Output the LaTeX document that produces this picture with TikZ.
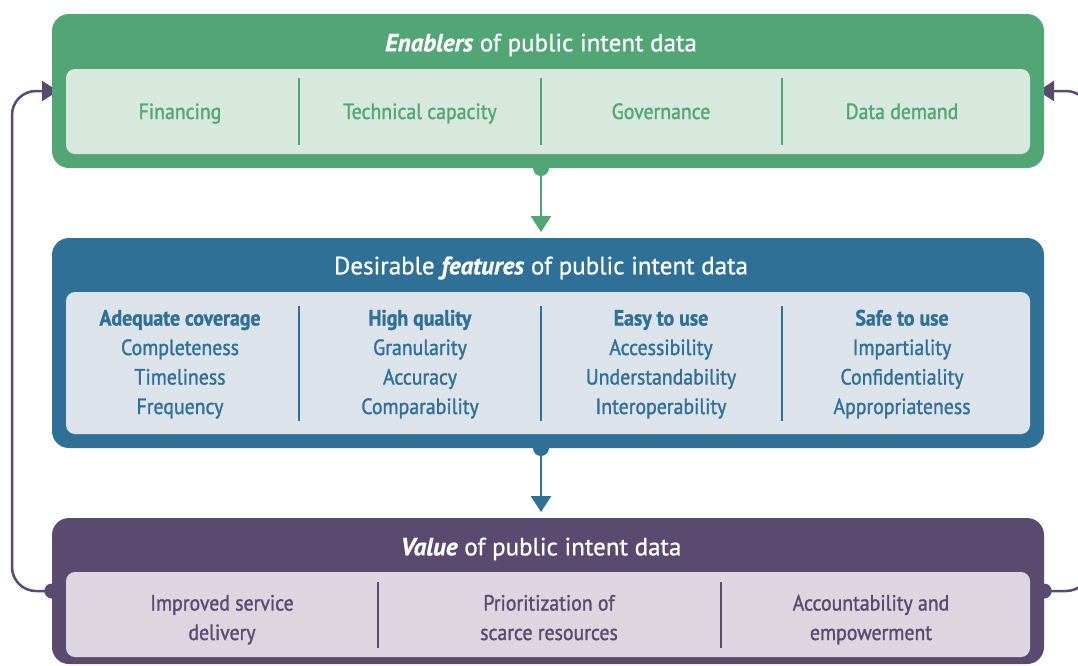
\documentclass[tikz,border=0pt]{standalone}
\usepackage{fontspec}
\setmainfont{PT Sans}[RawFeature={embolden=0.8}]
\newfontfamily\itemfont{PT Sans}[FakeStretch=0.9,RawFeature={embolden=1.3}]
\usetikzlibrary{arrows.meta}

\definecolor{encol}{HTML}{52A574}
\definecolor{enfill}{HTML}{D7E8DD}
\definecolor{fecol}{HTML}{2F7196}
\definecolor{fefill}{HTML}{DCE3EA}
\definecolor{vacol}{HTML}{5B4A70}
\definecolor{vafill}{HTML}{DDD6E0}

\begin{document}
\begin{tikzpicture}[x=1pt,y=-1pt,
  outer/.style={rounded corners=17pt,inner sep=0pt,minimum width=992pt},
  inner/.style={rounded corners=9pt,inner sep=0pt,minimum width=964pt},
  title/.style={text=white,font=\fontsize{25}{29}\selectfont},
  item/.style={align=center,anchor=base,font=\itemfont\fontsize{22}{29.5}\selectfont},
  loopline/.style={vacol,line width=2.5pt,rounded corners=24pt},
  flow/.style={line width=2.6pt,-{Triangle[width=20pt,length=16pt]}},
  dot/.style={circle,inner sep=0pt,minimum size=15pt}]

\useasboundingbox (0,0) rectangle (1078,665);

% feedback loop
\draw[loopline,-{Triangle[width=20pt,length=16pt]}] (52,591) -- (12,591) |- (58,91);
\draw[loopline,-{Triangle[width=20pt,length=16pt]}] (1044,591) -- (1090,591) |- (1038,91);

% boxes
\node[outer,fill=encol,minimum height=154pt] (enablers) at (548,91) {};
\node[inner,fill=enfill,minimum height=85pt] (enablersin) at (548,111.5) {};
\node[outer,fill=fecol,minimum height=210pt] (features) at (548,343) {};
\node[inner,fill=fefill,minimum height=142pt] (featuresin) at (548,363) {};
\node[outer,fill=vacol,minimum height=146pt] (value) at (548,591) {};
\node[inner,fill=vafill,minimum height=85pt] (valuein) at (548,614.5) {};

\node[dot,fill=vacol] at (value.west) {};
\node[dot,fill=vacol] at (value.east) {};

% arrows between boxes
\node[dot,fill=encol,minimum size=16pt] (endot) at (541,168) {};
\draw[flow,encol,shorten >=5pt] (541,168) -- (541,237);
\node[dot,fill=fecol,minimum size=16pt] (fedot) at (541,448) {};
\draw[flow,fecol,shorten >=6pt] (541,448) -- (541,518);

% titles
\node[title] (entitle) at (541,45) {\textbf{\textit{Enablers}} of public intent data};
\node[title] (fetitle) at (541,268) {Desirable \textbf{\textit{features}} of public intent data};
\node[title] (vatitle) at (541,549) {\textbf{\textit{Value}} of public intent data};

% dividers
\foreach \x in {299,541,782} {
  \draw[encol,line width=2pt] (\x,78) -- (\x,145);
  \draw[fecol,line width=2pt] (\x,306) -- (\x,421);
}
\foreach \x in {378,721}
  \draw[vacol,line width=2pt] (\x,582) -- (\x,648);

\node[item,text=encol] (fin) at (180,119) {Financing};
\node[item,text=encol] (tech) at (420,119) {Technical capacity};
\node[item,text=encol] (gov) at (661,119) {Governance};
\node[item,text=encol] (dem) at (902,119) {Data demand};

% last line sits on the base anchor
\node[item,text=fecol] (cov) at (180,414) {\textbf{Adequate coverage}\\Completeness\\Timeliness\\Frequency};
\node[item,text=fecol] (qual) at (420,414) {\textbf{High quality}\\Granularity\\Accuracy\\Comparability};
\node[item,text=fecol] (easy) at (661,414) {\textbf{Easy to use}\\Accessibility\\Understandability\\Interoperability};
\node[item,text=fecol] (safe) at (902,414) {\textbf{Safe to use}\\Impartiality\\Confidentiality\\Appropriateness};

\node[item,text=vacol] (serv) at (222,640) {Improved service\\delivery};
\node[item,text=vacol] (prio) at (549,640) {Prioritization of\\scarce resources};
\node[item,text=vacol] (acc) at (871,640) {Accountability and\\empowerment};
\end{tikzpicture}
\end{document}
